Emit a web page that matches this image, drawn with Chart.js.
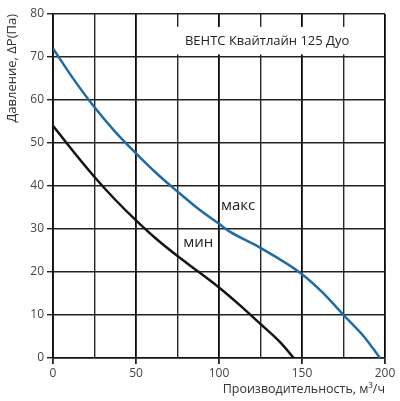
<!DOCTYPE html>
<html>
<head>
  <meta charset="utf-8">
  <script src="https://cdn.jsdelivr.net/npm/chart.js@4.4.0/dist/chart.umd.min.js"></script>
  <style>
    html, body { margin: 0; padding: 0; background: #fff; }
    #wrap { width: 400px; height: 401px; }
  </style>
</head>
<body>
  <div id="wrap"><canvas id="fan"></canvas></div>
  <script>
    // fan curve data (flow m3/h -> pressure Pa)
    const max_flow = [0, 12.5, 25, 37.5, 50, 62.5, 75, 87.5, 100, 106.5, 125, 150, 162.5, 175, 187.5, 197];
    const max_pres = [72, 64.8, 58.3, 52.6, 47.6, 42.9, 38.7, 34.7, 31.2, 29.4, 25.6, 19.5, 15.2, 10, 4.9, 0];
    const min_flow = [0, 12.5, 25, 37.5, 50, 62.5, 75, 87.5, 100, 112.5, 125, 137.5, 145];
    const min_pres = [54, 47.9, 42.1, 36.8, 32, 27.6, 23.7, 20.1, 16.4, 12.3, 7.9, 3.4, 0];
    const x_ticks = [0, 50, 100, 150, 200];
    const chart_title = "ВЕНТС Квайтлайн 125 Дуо";
    const curve_labels = ["макс", "мин"];

    const font = "'Open Sans', sans-serif";
    const toPoints = (xs, ys) => xs.map((x, i) => ({ x: x, y: ys[i] }));

    // title box + curve labels drawn on the plot
    const labelsPlugin = {
      id: "labels",
      beforeDatasetsDraw(chart) {
        const ctx = chart.ctx, x = chart.scales.x, y = chart.scales.y;
        const left = x.getPixelForValue(64.5), right = x.getPixelForValue(200) - 1;
        const top = y.getPixelForValue(77), bot = y.getPixelForValue(70.6);
        ctx.save();
        ctx.fillStyle = "#fff";
        ctx.fillRect(left, top, right - left, bot - top);
        ctx.fillStyle = "#222";
        ctx.font = "13px " + font;
        ctx.textAlign = "center";
        ctx.textBaseline = "middle";
        ctx.fillText(chart_title, x.getPixelForValue(129), y.getPixelForValue(73.6));
        ctx.restore();
      },
      afterDatasetsDraw(chart) {
        const ctx = chart.ctx, x = chart.scales.x, y = chart.scales.y;
        ctx.save();
        ctx.fillStyle = "#222";
        ctx.font = "15px " + font;
        ctx.textAlign = "center";
        ctx.textBaseline = "middle";
        ctx.fillText(curve_labels[0], x.getPixelForValue(111.5), y.getPixelForValue(35.5));
        ctx.fillText(curve_labels[1], x.getPixelForValue(87.5), y.getPixelForValue(26.8));
        ctx.restore();
      }
    };

    new Chart(document.getElementById("fan"), {
      type: "line",
      data: {
        datasets: [{
          label: curve_labels[0],
          data: toPoints(max_flow, max_pres),
          borderColor: "#1c6cab",
          borderWidth: 2.5,
          pointRadius: 0,
          cubicInterpolationMode: "monotone"
        }, {
          label: curve_labels[1],
          data: toPoints(min_flow, min_pres),
          borderColor: "#141414",
          borderWidth: 2.5,
          pointRadius: 0,
          cubicInterpolationMode: "monotone"
        }]
      },
      options: {
        responsive: true,
        maintainAspectRatio: false,
        animation: false,
        layout: { padding: { top: 14, right: 15, left: 0, bottom: 0 } },
        plugins: { legend: { display: false }, tooltip: { enabled: false } },
        scales: {
          x: {
            type: "linear",
            min: 0, max: 200,
            afterFit(s) { s.height = 43; },
            border: { color: "#111", width: 1.6 },
            grid: {
              color: c => c.tick.value % 50 === 0 ? "#0a0a0a" : "#262626",
              lineWidth: c => c.tick.value % 50 === 0 ? 1.8 : 1.4,
              tickColor: c => x_ticks.includes(c.tick.value) ? "#222" : "rgba(0,0,0,0)",
              tickLength: 6
            },
            ticks: {
              stepSize: 25,
              autoSkip: false,
              maxRotation: 0,
              padding: 2,
              color: "#444",
              font: { family: font, size: 12 },
              callback: v => x_ticks.includes(v) ? v : ""
            },
            title: {
              display: true,
              text: "Производительность, м³/ч",
              align: "end",
              color: "#333",
              font: { family: font, size: 12.5 },
              padding: { top: 0, bottom: 4 }
            }
          },
          y: {
            min: 0, max: 80,
            afterFit(s) { s.width = 53; },
            border: { color: "#111", width: 1.6 },
            grid: { color: "#222", lineWidth: 1.4, tickColor: "#222", tickLength: 6 },
            ticks: {
              stepSize: 10,
              padding: 3,
              color: "#444",
              font: { family: font, size: 12 }
            },
            title: {
              display: true,
              text: "Давление, ΔP(Па)",
              align: "end",
              color: "#333",
              font: { family: font, size: 13 },
              padding: { top: 4, bottom: 0 }
            }
          }
        }
      },
      plugins: [labelsPlugin]
    });
  </script>
</body>
</html>
